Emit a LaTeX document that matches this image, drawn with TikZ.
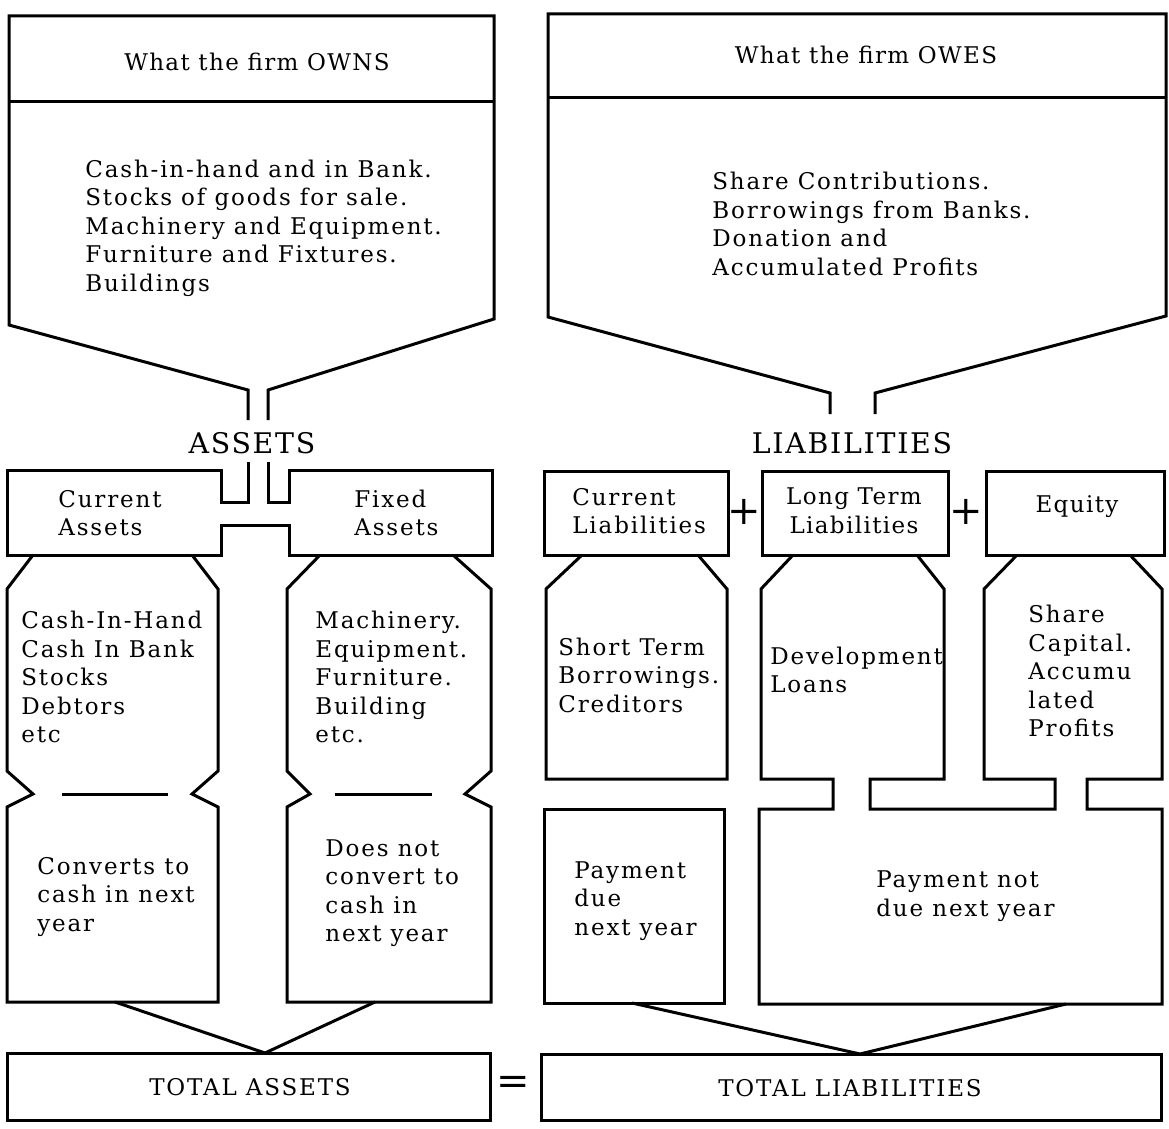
\documentclass[tikz,border=0pt]{standalone}
\usepackage{fontspec}
\setmainfont[LetterSpace=6]{DejaVu Serif}
\newfontfamily\listfamily[LetterSpace=8]{DejaVu Serif}
\newcommand{\listfont}{\listfamily\fontsize{11.5}{14.25}\selectfont}
\newcommand{\bigfont}{\fontsize{14.2}{16}\selectfont}
\tikzset{
	wall/.style={line width=1.5pt, line join=miter},
	list/.style={align=left, inner sep=0pt, anchor=west, font=\listfont},
	title/.style={inner sep=0pt, font=\fontsize{11.5}{14.25}\selectfont},
	sign/.style={inner sep=0pt, font=\fontsize{20}{20}\selectfont},
}

\begin{document}
\begin{tikzpicture}[x=0.5pt, y=-0.5pt]
	\useasboundingbox (0,0) rectangle (1169,1129);

	% what the firm owns / owes
	\draw [wall] (248,420) -- (248,390) -- (9,325) -- (9,16) -- (494,16) -- (494,319) -- (268,390) -- (268,420);
	\draw [wall] (9,102) -- (494,102);
	\draw [wall] (830,414) -- (830,393) -- (548,317) -- (548,14) -- (1166,14) -- (1166,316) -- (875,393) -- (875,414);
	\draw [wall] (548,98) -- (1166,98);
	\node [title] (owns) at (257,62) {What the firm OWNS};
	\node [title] (owes) at (866,55) {What the firm OWES};
	\node [list] (ownslist) at (85,228) {Cash-in-hand and in Bank.\\Stocks of goods for sale.\\Machinery and Equipment.\\Furniture and Fixtures.\\Buildings};
	\node [list] (oweslist) at (712,224) {Share Contributions.\\Borrowings from Banks.\\Donation and\\Accumulated Profits};
	\node [title, font=\bigfont] (assets) at (252,443) {ASSETS};
	\node [title, font=\bigfont] (liab) at (852,443) {LIABILITIES};

	% assets side
	\draw [wall] (248,462) -- (248,502) -- (221,502) -- (221,470) -- (7,470) -- (7,555) -- (221,555) -- (221,525) -- (289,525) -- (289,555) -- (492,555) -- (492,470) -- (289,470) -- (289,502) -- (268,502) -- (268,462);
	\draw [wall] (33,555) -- (7,589) -- (7,771) -- (33,794) -- (7,807) -- (7,1002) -- (218,1002) -- (218,807) -- (192,794) -- (218,771) -- (218,589) -- (192,555);
	\draw [wall] (62,794) -- (168,794);
	\draw [wall] (320,555) -- (287,589) -- (287,771) -- (310,794) -- (287,807) -- (287,1002) -- (491,1002) -- (491,807) -- (465,794) -- (491,771) -- (491,589) -- (453,555);
	\draw [wall] (335,794) -- (432,794);
	\draw [wall] (115,1002) -- (265,1053) -- (375,1002);
	\draw [wall] (7,1053) rectangle (490,1120);
	\node [list] (curass) at (58,513) {Current\\Assets};
	\node [list] (fixass) at (354,513) {Fixed\\Assets};
	\node [list] (cashlist) at (21,677) {Cash-In-Hand\\Cash In Bank\\Stocks\\Debtors\\etc};
	\node [list] (fixlist) at (315,677) {Machinery.\\Equipment.\\Furniture.\\Building\\etc.};
	\node [list] (convert) at (37,897) {Converts to\\cash in next\\year};
	\node [list] (noconvert) at (325,893) {Does not\\convert to\\cash in\\next year};
	\node [title, font=\listfont] (totass) at (250,1087) {TOTAL ASSETS};
	\node [sign] (eq) at (513,1085) {=};

	% liabilities side
	\draw [wall] (544,471) rectangle (728,555);
	\draw [wall] (762,471) rectangle (948,555);
	\draw [wall] (986,471) rectangle (1164,555);
	\draw [wall] (582,555) -- (546,589) -- (546,779) -- (727,779) -- (727,589) -- (698,555);
	\draw [wall] (793,555) -- (761,589) -- (761,779) -- (833,779) -- (833,809) -- (759,809) -- (759,1004) -- (1162,1004) -- (1162,809) -- (1087,809) -- (1087,779) -- (1162,779) -- (1162,589) -- (1130,555);
	\draw [wall] (917,555) -- (944,589) -- (944,779) -- (870,779) -- (870,809) -- (1055,809) -- (1055,779) -- (984,779) -- (984,589) -- (1017,555);
	\draw [wall] (544,809) rectangle (724,1003);
	\draw [wall] (632,1003) -- (860,1054) -- (1066,1004);
	\draw [wall] (541,1054) rectangle (1161,1120);
	\node [list] (curliab) at (572,511) {Current\\Liabilities};
	\node [title, align=center] (ltliab) at (854,511) {Long Term\\Liabilities};
	\node [title] (equity) at (1077,507) {Equity};
	\node [sign] (plusA) at (744,512) {+};
	\node [sign] (plusB) at (966,512) {+};
	\node [list] (shortlist) at (558,675) {Short Term\\Borrowings.\\Creditors};
	\node [list] (devlist) at (770,670) {Development\\Loans};
	\node [list] (sharelist) at (1028,671) {Share\\Capital.\\Accumu\\lated\\Profits};
	\node [list] (due) at (574,901) {Payment\\due\\next year};
	\node [list] (notdue) at (876,896) {Payment not\\due next year};
	\node [title, font=\listfont] (totliab) at (850,1088) {TOTAL LIABILITIES};
\end{tikzpicture}
\end{document}
